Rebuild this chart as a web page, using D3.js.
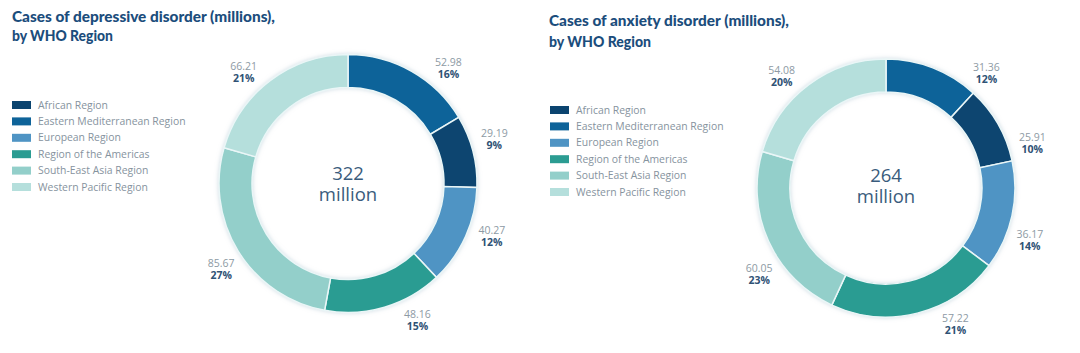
<!DOCTYPE html>
<html>
<head>
<meta charset="utf-8">
<script src="https://cdn.jsdelivr.net/npm/d3@7"></script>
<style>
  body { margin: 0; background: #fff; }
  svg { display: block; }
</style>
</head>
<body>
<svg id="chart" width="1080" height="353"></svg>
<script>
// legend order
const regions = ["African Region", "Eastern Mediterranean Region", "European Region",
  "Region of the Americas", "South-East Asia Region", "Western Pacific Region"];
const colors = ["#0b446f", "#0e6399", "#4f94c4", "#2b9c92", "#93cfca", "#b5dfdc"];

// cases in millions, legend order
const depressive = [29.19, 52.98, 40.27, 48.16, 85.67, 66.21];
const depressivePct = [9, 16, 12, 15, 27, 21];
const anxiety = [25.91, 31.36, 36.17, 57.22, 60.05, 54.08];
const anxietyPct = [10, 12, 14, 21, 23, 20];

// ring goes clockwise from 12 o'clock starting with Eastern Med
const ringOrder = [1, 0, 2, 3, 4, 5];
// label angles (deg) used by the original template, in ring order
const labelAngles = [41, 73, 110, 153, 236, 317];

const svg = d3.select('#chart');

const defs = svg.append('defs');
const f = defs.append('filter').attr('id', 'glow')
  .attr('x', '-20%').attr('y', '-20%').attr('width', '140%').attr('height', '140%');
f.append('feDropShadow').attr('dx', 0).attr('dy', 0).attr('stdDeviation', 2)
  .attr('flood-color', '#9fb8c8').attr('flood-opacity', 0.5);

drawChart({
  values: depressive, pct: depressivePct, total: 322,
  title: ["Cases of depressive disorder (millions),", "by WHO Region"],
  titleX: 12, titleY: [22, 41], titleW: [263, 101],
  legendX: 12, legendY: 105, legendStep: 16.4,
  cx: 348, cy: 183.5, centerDy: -4
});

drawChart({
  values: anxiety, pct: anxietyPct, total: 264,
  title: ["Cases of anxiety disorder (millions),", "by WHO Region"],
  titleX: 549, titleY: [26, 47], titleW: [240, 102],
  legendX: 550, legendY: 110, legendStep: 16.4,
  cx: 886, cy: 188, centerDy: -6
});

function drawChart(o) {
  const g = svg.append('g');

  // title
  o.title.forEach(function(t, i) {
    g.append('text')
      .attr('x', o.titleX).attr('y', o.titleY[i])
      .attr('textLength', o.titleW[i]).attr('lengthAdjust', 'spacingAndGlyphs')
      .style('font-family', 'Lato, sans-serif').style('font-weight', 900)
      .style('font-size', '14.5px').style('fill', '#1b4d7c')
      .text(t);
  });

  // legend
  const leg = g.append('g').selectAll('g')
    .data(regions).enter().append('g')
    .attr('transform', function(d, i) {
      return 'translate(' + o.legendX + ',' + (o.legendY + i * o.legendStep) + ')';
    });
  leg.append('rect')
    .attr('x', 0).attr('y', -4).attr('width', 19).attr('height', 8)
    .attr('fill', function(d, i) { return colors[i]; });
  leg.append('text')
    .attr('x', 26).attr('y', 0).attr('dy', '0.35em')
    .style('font-family', '"Open Sans", sans-serif').style('font-size', '10.4px')
    .style('fill', '#86939e')
    .text(d => d);

  // donut
  const rows = ringOrder.map(function(k) {
    return { name: regions[k], value: o.values[k], pct: o.pct[k], color: colors[k] };
  });
  const pie = d3.pie().sort(null).value(d => d.value);
  const arc = d3.arc().innerRadius(96).outerRadius(129);

  const donut = g.append('g').attr('transform', 'translate(' + o.cx + ',' + o.cy + ')');
  donut.append('g').attr('filter', 'url(#glow)')
    .selectAll('path')
    .data(pie(rows)).enter().append('path')
    .attr('d', arc)
    .attr('fill', d => d.data.color)
    .attr('stroke', '#eaf6f7').attr('stroke-width', 1.5);

  // center total, one text block with two lines
  const ct = donut.append('text').attr('y', o.centerDy).attr('text-anchor', 'middle')
    .style('font-family', '"Open Sans", sans-serif').style('font-size', '18.5px')
    .style('fill', '#3a5c7c');
  ct.append('tspan').attr('x', 0).text(o.total);
  ct.append('tspan').attr('x', 0).attr('dy', 21).text('million');

  // value labels
  const lab = donut.selectAll('g.lab')
    .data(rows).enter().append('g').attr('class', 'lab')
    .attr('transform', function(d, i) {
      const a = labelAngles[i] * Math.PI / 180;
      return 'translate(' + (153 * Math.sin(a)) + ',' + (-153 * Math.cos(a)) + ')';
    });
  const lt = lab.append('text').attr('y', -2).attr('text-anchor', 'middle')
    .style('font-family', '"Open Sans", sans-serif').style('font-size', '10.5px');
  lt.append('tspan').attr('x', 0).style('fill', '#8d9aa4')
    .text(d => d.value.toFixed(2));
  lt.append('tspan').attr('x', 0).attr('dy', 12)
    .style('font-weight', 700).style('fill', '#2f5275')
    .text(d => d.pct + '%');
}
</script>
</body>
</html>
